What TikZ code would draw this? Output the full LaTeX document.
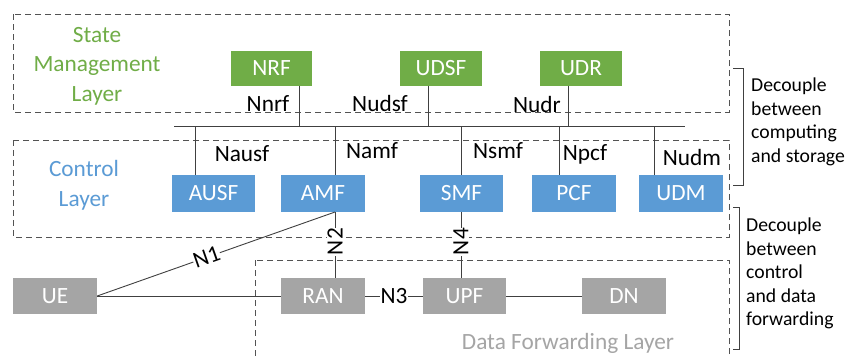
\documentclass[tikz,border=0pt]{standalone}
\usepackage{fontspec}
\setmainfont{Carlito}
\definecolor{cgreen}{HTML}{70AD47}
\definecolor{cblue}{HTML}{5B9BD5}
\definecolor{cgray}{HTML}{A5A5A5}
\definecolor{cline}{HTML}{404040}
\begin{document}
\begin{tikzpicture}[x=1pt,y=-1pt,
  font=\fontsize{23.3}{27}\selectfont,
  nf/.style={draw=none,inner sep=0pt,minimum height=35pt,text=white},
  gnode/.style={nf,fill=cgreen,minimum width=82pt},
  bnode/.style={nf,fill=cblue,minimum width=84pt,minimum height=37pt},
  ynode/.style={nf,fill=cgray,minimum width=84pt,minimum height=36pt},
  layerbox/.style={draw=cline!90,dash pattern=on 6pt off 4pt,line width=0.9pt},
  conn/.style={draw=cline,line width=0.9pt},
  lbl/.style={inner sep=0.5pt,text=black},
  wlbl/.style={lbl,fill=white},
  side/.style={align=left,anchor=north west,inner sep=0pt,font=\fontsize{19.7}{23.5}\selectfont},
  brk/.style={draw=cline,line width=0.9pt}]
\useasboundingbox (0,0) rectangle (857,357);
\clip (0,0) rectangle (857,357);
\fill[white] (0,0) rectangle (857,357);
% layer boxes
\draw[layerbox] (13,14) rectangle (729,112);
\draw[layerbox] (13,140) rectangle (729,237);
\draw[layerbox] (255,260) rectangle (729,370);
% layer titles
\node[align=center,text=cgreen,font=\fontsize{23.3}{29.5}\selectfont] (tstate) at (97,66) {State\\Management\\Layer};
\node[align=center,text=cblue,font=\fontsize{23.3}{30}\selectfont] (tctrl) at (84,185) {Control\\Layer};
\node[text=cgray] (tdata) at (568,343) {Data Forwarding Layer};
% green nodes
\node[gnode,minimum width=81pt] (NRF) at (271.5,68) {NRF};
\node[gnode] (UDSF) at (441,68) {UDSF};
\node[gnode] (UDR) at (581,68) {UDR};
% blue nodes
\node[bnode,minimum width=83pt] (AUSF) at (213.5,193.5) {AUSF};
\node[bnode] (AMF) at (323,193.5) {AMF};
\node[bnode,minimum width=83pt] (SMF) at (461.5,193.5) {SMF};
\node[bnode] (PCF) at (574,193.5) {PCF};
\node[bnode] (UDM) at (681,193.5) {UDM};
% gray nodes
\node[ynode] (UE) at (55,296) {UE};
\node[ynode] (RAN) at (323,296) {RAN};
\node[ynode,minimum width=83pt] (UPF) at (464.5,296) {UPF};
\node[ynode] (DN) at (624,296) {DN};
% bus
\coordinate (busL) at (174,126);
\coordinate (busR) at (685,126);
\draw[conn] (busL) -- (busR);
\coordinate (bNRF) at (299,126);
\coordinate (bUDSF) at (428,126);
\coordinate (bUDR) at (568,126);
\coordinate (bAUSF) at (195,126);
\coordinate (bAMF) at (335,126);
\coordinate (bSMF) at (461,126);
\coordinate (bPCF) at (559,126);
\coordinate (bUDM) at (654,126);
\draw[conn] (bNRF) -- (bNRF |- NRF.south);
\draw[conn] (bUDSF) -- (bUDSF |- UDSF.south);
\draw[conn] (bUDR) -- (bUDR |- UDR.south);
\draw[conn] (bAUSF) -- (bAUSF |- AUSF.north);
\draw[conn] (bAMF) -- (bAMF |- AMF.north);
\draw[conn] (bSMF) -- (bSMF |- SMF.north);
\draw[conn] (bPCF) -- (bPCF |- PCF.north);
\draw[conn] (bUDM) -- (bUDM |- UDM.north);
% service labels
\node[lbl] (lNnrf) at (268,104) {Nnrf};
\node[lbl] (lNudsf) at (380,103) {Nudsf};
\node[lbl] (lNudr) at (537,104) {Nudr};
\node[lbl] (lNausf) at (242,154) {Nausf};
\node[lbl] (lNamf) at (372,151) {Namf};
\node[lbl] (lNsmf) at (498,151) {Nsmf};
\node[lbl] (lNpcf) at (585,154) {Npcf};
\node[lbl] (lNudm) at (692,157) {Nudm};
% reference points
\coordinate (amfB) at (335,212);
\coordinate (smfB) at (461,212);
\draw[conn] (UE.east) -- node[wlbl,pos=0.46,sloped] (lN1) {N1} (amfB);
\draw[conn] (UE.east) -- (RAN.west);
\draw[conn] (amfB) -- node[wlbl,rotate=90,pos=0.45] (lN2) {N2} (amfB |- RAN.north);
\draw[conn] (RAN.east) -- node[wlbl] (lN3) {N3} (UPF.west);
\draw[conn] (smfB) -- node[wlbl,rotate=90,pos=0.45] (lN4) {N4} (smfB |- UPF.north);
\draw[conn] (UPF.east) -- (DN.west);
% brackets
\draw[brk] (733,68) -- (743,68) -- (743,185) -- (733,185);
\draw[brk] (733,207) -- (739,207) -- (739,349) -- (733,349);
\node[side] (s1) at (751,78) {Decouple\\between\\computing\\and storage};
\node[side] (s2) at (746,218) {Decouple\\between\\control\\and data\\forwarding};
\end{tikzpicture}
\end{document}
